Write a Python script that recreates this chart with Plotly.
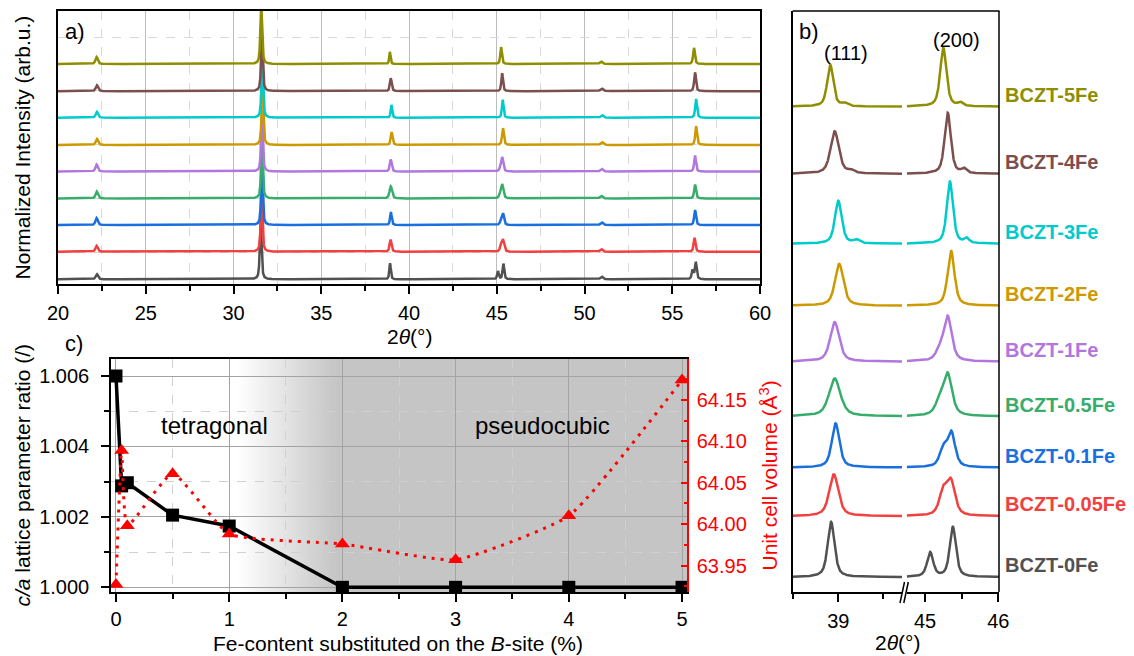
import numpy as np
import plotly.graph_objects as go

W, H = 1134, 656          # browser window
OFF = 8                   # default page body margin in front of the figure
FW, FH = W - OFF, H - OFF # figure size so that it ends at the window edge
FONT = "Liberation Sans, Arial, sans-serif"

# ---------------- data ----------------
samples = ["BCZT-0Fe", "BCZT-0.05Fe", "BCZT-0.1Fe", "BCZT-0.5Fe", "BCZT-1Fe",
           "BCZT-2Fe", "BCZT-3Fe", "BCZT-4Fe", "BCZT-5Fe"]
colors = ["#515151", "#F14040", "#1A6FDF", "#37AD6B", "#B177DE",
          "#CC9900", "#00CBCC", "#7D4E4E", "#8E8E00"]

# panel a) full patterns: stacking offsets and peak parameters (2theta in deg, height in arb. units)
a_offsets = [0.175, 1.20, 2.19, 3.18, 4.18, 5.17, 6.18, 7.17, 8.18]
a_pos_100 = [22.22, 22.20, 22.20, 22.21, 22.20, 22.22, 22.22, 22.22, 22.20]
a_h_100 = [0.19, 0.22, 0.26, 0.26, 0.26, 0.22, 0.22, 0.22, 0.26]
a_pos_110 = [31.55, 31.60, 31.62, 31.62, 31.62, 31.65, 31.64, 31.62, 31.58]
a_h_110 = [2.1, 2.1, 2.1, 2.1, 2.1, 2.1, 2.1, 2.1, 2.2]
a_h_111 = [0.60, 0.45, 0.48, 0.45, 0.45, 0.48, 0.48, 0.48, 0.45]
a_h_200 = [0.58, 0.40, 0.40, 0.50, 0.52, 0.63, 0.67, 0.67, 0.63]
a_h_002 = [0.30, 0.22, 0.18, 0.12, 0.08, 0.0, 0.0, 0.0, 0.0]
a_pos_210 = [50.98, 50.96, 50.98, 50.96, 50.98, 51.00, 51.00, 50.98, 50.94]
a_h_210 = [0.10, 0.10, 0.10, 0.10, 0.10, 0.11, 0.10, 0.10, 0.09]
a_pos_211 = [56.34, 56.27, 56.30, 56.30, 56.30, 56.36, 56.36, 56.30, 56.24]
a_h_211 = [0.63, 0.52, 0.56, 0.52, 0.60, 0.70, 0.70, 0.70, 0.60]
a_pos_112 = [56.16, 56.20, 56.20, 56.20, 56.20, 56.2, 56.2, 56.2, 56.2]
a_h_112 = [0.33, 0.0, 0.0, 0.0, 0.0, 0.0, 0.0, 0.0, 0.0]

# panel b) (111) and (200) reflections
b_offsets = [0.258, 1.307, 2.144, 3.026, 3.966, 4.929, 5.995, 7.198, 8.355]
b_pos_111 = [38.92, 38.95, 38.97, 38.96, 38.96, 39.01, 39.00, 38.96, 38.91]
b_h_111 = [0.95, 0.72, 0.76, 0.65, 0.68, 0.72, 0.74, 0.73, 0.72]
b_w_111 = [0.09, 0.12, 0.10, 0.15, 0.12, 0.11, 0.09, 0.11, 0.08]
b_pos_sh111 = [39.20, 39.20, 39.20, 39.20, 39.20, 39.20, 39.20, 39.14, 39.07]
b_h_sh111 = [0.0, 0.0, 0.0, 0.0, 0.0, 0.0, 0.06, 0.05, 0.05]
b_pos_200 = [45.38, 45.355, 45.36, 45.31, 45.31, 45.355, 45.34, 45.31, 45.25]
b_h_200 = [0.86, 0.56, 0.58, 0.70, 0.76, 0.95, 1.07, 1.05, 1.01]
b_w_200 = [0.10, 0.13, 0.12, 0.14, 0.13, 0.11, 0.10, 0.10, 0.10]
b_pos_002 = [45.07, 45.25, 45.25, 45.20, 45.20, 45.20, 45.20, 45.20, 45.20]
b_h_002 = [0.42, 0.40, 0.30, 0.22, 0.15, 0.0, 0.0, 0.0, 0.0]
b_pos_sh200 = [45.60, 45.60, 45.60, 45.60, 45.60, 45.60, 45.57, 45.53, 45.48]
b_h_sh200 = [0.0, 0.0, 0.0, 0.0, 0.0, 0.0, 0.08, 0.08, 0.06]

# panel c) lattice parameters
fe_content = [0, 0.05, 0.1, 0.5, 1, 2, 3, 4, 5]
ca_ratio = [1.0060, 1.00288, 1.00297, 1.00205, 1.00174, 1.0000, 1.0000, 1.0000, 1.0000]
cell_volume = [63.927, 64.089, 63.998, 64.061, 63.988, 63.976, 63.957, 64.010, 64.174]


def pv(x, c, fwhm, eta=0.6):
    """pseudo-Voigt peak of unit height"""
    d = (x - c) / fwhm
    return eta / (1 + 4 * d * d) + (1 - eta) * np.exp(-4 * np.log(2) * d * d)


def px(p):
    return (p - OFF) / FW


def py(p):
    return 1 - (p - OFF) / FH


fig = go.Figure()

# ---------------- panel a ----------------
xa = np.arange(20, 60.0001, 0.01)
for i in range(len(samples)):
    w1, w2 = b_w_111[i] * 1.1, b_w_200[i] * 1.1
    prof = (a_h_100[i] * pv(xa, a_pos_100[i], 0.16)
            + a_h_110[i] * pv(xa, a_pos_110[i], 0.12)
            + a_h_111[i] * pv(xa, b_pos_111[i], w1)
            + a_h_200[i] * pv(xa, b_pos_200[i], w2)
            + a_h_002[i] * pv(xa, b_pos_002[i], w2)
            + a_h_210[i] * pv(xa, a_pos_210[i], 0.18)
            + a_h_211[i] * pv(xa, a_pos_211[i], 0.12)
            + a_h_112[i] * pv(xa, a_pos_112[i], 0.12))
    fig.add_trace(go.Scatter(x=xa, y=prof + a_offsets[i], mode="lines",
                             line=dict(color=colors[i], width=2.5),
                             xaxis="x", yaxis="y", showlegend=False, hoverinfo="skip"))

# ---------------- panel b ----------------
xb1 = np.arange(38.49, 39.71, 0.002)
xb2 = np.arange(44.75, 46.012, 0.002)
for i in range(len(samples)):
    p1 = (b_h_111[i] * pv(xb1, b_pos_111[i], b_w_111[i])
          + b_h_sh111[i] * pv(xb1, b_pos_sh111[i], 0.08))
    p2 = (b_h_200[i] * pv(xb2, b_pos_200[i], b_w_200[i])
          + b_h_002[i] * pv(xb2, b_pos_002[i], b_w_200[i])
          + b_h_sh200[i] * pv(xb2, b_pos_sh200[i], 0.08))
    fig.add_trace(go.Scatter(x=xb1, y=p1 + b_offsets[i], mode="lines",
                             line=dict(color=colors[i], width=2.5),
                             xaxis="x3", yaxis="y4", showlegend=False, hoverinfo="skip"))
    fig.add_trace(go.Scatter(x=xb2, y=p2 + b_offsets[i], mode="lines",
                             line=dict(color=colors[i], width=2.5),
                             xaxis="x4", yaxis="y4", showlegend=False, hoverinfo="skip"))

# ---------------- panel c ----------------
fig.add_trace(go.Scatter(x=fe_content, y=cell_volume, mode="lines+markers",
                         line=dict(color="#ff0000", width=3, dash="3px,6px", shape="spline",
                                   smoothing=0.45),
                         marker=dict(symbol="triangle-up", size=13, color="#ff0000"),
                         xaxis="x2", yaxis="y3", showlegend=False))
fig.add_trace(go.Scatter(x=fe_content, y=ca_ratio, mode="lines+markers",
                         line=dict(color="black", width=3.5),
                         marker=dict(symbol="square", size=13, color="black"),
                         xaxis="x2", yaxis="y2", showlegend=False))

# gradient background (tetragonal -> pseudocubic)
shapes = []
g0, g1, gray = 1.08, 1.95, 197
n = 36
for k in range(n):
    xs = g0 + (g1 - g0) * k / n
    t = (k + 0.5) / n
    v = int(round(255 - (255 - gray) * t))
    shapes.append(dict(type="rect", xref="x2", yref="y2 domain", x0=xs,
                       x1=xs + (g1 - g0) / n * 1.6, y0=0, y1=1, layer="below",
                       fillcolor=f"rgb({v},{v},{v})", line=dict(width=0)))
shapes.append(dict(type="rect", xref="x2", yref="y2 domain", x0=g1, x1=5.2, y0=0, y1=1,
                   layer="below", fillcolor=f"rgb({gray},{gray},{gray})", line=dict(width=0)))

# panel b frame (top, right) and axis break marks
shapes.append(dict(type="line", xref="paper", yref="paper", x0=px(792.7), x1=px(999.5),
                   y0=py(11), y1=py(11), line=dict(color="black", width=1.5)))
shapes.append(dict(type="line", xref="paper", yref="paper", x0=px(999), x1=px(999),
                   y0=py(11), y1=py(592), line=dict(color="black", width=1.5)))
for dx in (0, 3.8):
    shapes.append(dict(type="line", xref="paper", yref="paper", x0=px(900 + dx), x1=px(904.5 + dx),
                       y0=py(603), y1=py(582), line=dict(color="black", width=1.5)))

axis_common = dict(showline=True, linecolor="black", linewidth=1.5, zeroline=False,
                   automargin=False,
                   tickfont=dict(size=20, color="black", family=FONT), tickcolor="black",
                   tickwidth=1.5)

fig.update_layout(
    template="none",
    width=FW, height=FH, margin=dict(l=0, r=0, t=0, b=0, pad=0, autoexpand=False),
    paper_bgcolor="white", plot_bgcolor="white",
    font=dict(family=FONT, color="black"),
    shapes=shapes,
    xaxis=dict(domain=[px(58), px(760)], anchor="y", range=[20, 60], tick0=20, dtick=5,
               ticks="outside", ticklen=8, mirror=True, showgrid=True, gridcolor="#bdbdbd",
               gridwidth=1, ticklabelstandoff=2,
               minor=dict(dtick=2.5, tick0=20, ticks="outside", ticklen=5, tickcolor="black",
                          showgrid=True, gridcolor="#d9d9d9", griddash="dash"),
               **axis_common),
    yaxis=dict(domain=[py(284), py(11)], anchor="x", range=[0, 10.15], showticklabels=False,
               ticks="", mirror=True, showgrid=True, tick0=1.18, dtick=2,
               gridcolor="#d9d9d9", griddash="dash", **axis_common),
    xaxis2=dict(domain=[px(111), px(687)], anchor="y2", range=[-0.044, 5.044], tick0=0, dtick=1,
                ticks="outside", ticklen=8, mirror=True, showgrid=True, gridcolor="#a3a3a3",
                ticklabelstandoff=0,
                minor=dict(dtick=0.5, tick0=0, ticks="outside", ticklen=5, tickcolor="black",
                           showgrid=True, gridcolor="#d0d0d0", griddash="dash"),
                **axis_common),
    yaxis2=dict(domain=[py(592), py(359)], anchor="x2", range=[0.999867, 1.006483],
                tick0=1.0, dtick=0.002, tickformat=".3f", ticks="outside", ticklen=8,
                showgrid=True, gridcolor="#a3a3a3", ticklabelstandoff=8,
                minor=dict(dtick=0.001, tick0=1.0, ticks="outside", ticklen=5, tickcolor="black",
                           showgrid=True, gridcolor="#d0d0d0", griddash="dash"),
                **axis_common),
    yaxis3=dict(overlaying="y2", side="right", anchor="x2", range=[63.918, 64.1995],
                tick0=63.95, dtick=0.05, tickformat=".2f", ticks="inside", ticklen=6,
                showgrid=False, showline=True, linecolor="#ff0000", linewidth=1.5, zeroline=False,
                tickcolor="#ff0000", tickwidth=1.5, automargin=False, ticklabelstandoff=4,
                tickfont=dict(size=20, color="#ff0000", family=FONT),
                minor=dict(dtick=0.025, tick0=63.95, ticks="inside", ticklen=3, tickcolor="#ff0000")),
    xaxis3=dict(domain=[px(792.7), px(902)], anchor="y4", range=[38.493, 39.708],
                tickmode="array", tickvals=[39], ticktext=["39"], ticks="outside", ticklen=8,
                showgrid=False, ticklabelstandoff=2,
                minor=dict(tickmode="array", tickvals=[38.5, 39.5], ticks="outside", ticklen=5,
                           tickcolor="black"),
                **axis_common),
    xaxis4=dict(domain=[px(906.7), px(999)], anchor="y4", range=[44.75, 46.01],
                tickmode="array", tickvals=[45, 46], ticktext=["45", "46"], ticks="outside",
                ticklen=8, showgrid=False, ticklabelstandoff=2,
                minor=dict(tickmode="array", tickvals=[45.5], ticks="outside", ticklen=5,
                           tickcolor="black"),
                **axis_common),
    yaxis4=dict(domain=[py(592), py(11)], anchor="x3", range=[0, 10], showticklabels=False,
                ticks="", showgrid=False, **axis_common),
)

ann = []


def txt(x, y, s, size=21, color="black", angle=0, xref="paper", yref="paper", xanchor="center",
        yanchor="middle"):
    ann.append(dict(x=x, y=y, xref=xref, yref=yref, text=s, showarrow=False, textangle=angle,
                    font=dict(size=size, color=color, family=FONT), xanchor=xanchor,
                    yanchor=yanchor))


# axis titles
txt(px(22), py(147.5), "Normalized Intensity (arb.u.)", angle=-90)
txt(px(409), py(336), "2<i>θ</i>(°)")
txt(px(22), py(475.5), "<i>c/a</i> lattice parameter ratio (/)", angle=-90)
txt(px(768), py(475.5), "Unit cell volume (Å<sup>3</sup>)", color="#ff0000", angle=-90)
txt(px(398), py(643), "Fe-content substituted on the <i>B</i>-site (%)")
txt(px(897), py(642), "2<i>θ</i>(°)")

# panel letters and annotations
txt(px(63), py(32), "a)", size=22, xanchor="left")
txt(px(797), py(32), "b)", size=22, xanchor="left")
txt(px(63), py(343), "c)", size=22, xanchor="left")
txt(39.086, 9.27, "(111)", size=20, xref="x3", yref="y4")
txt(45.43, 9.50, "(200)", size=20, xref="x4", yref="y4")
txt(0.87, 1.0046, "tetragonal", size=24, xref="x2", yref="y2")
txt(3.77, 1.0046, "pseudocubic", size=24, xref="x2", yref="y2")

for i, s in enumerate(samples):
    ann.append(dict(x=px(1003), y=b_offsets[i] + 0.2, xref="paper", yref="y4", text=f"<b>{s}</b>",
                    showarrow=False, xanchor="left", yanchor="middle",
                    font=dict(size=20, color=colors[i], family=FONT)))

fig.update_layout(annotations=ann)
fig.write_html("out.html")
